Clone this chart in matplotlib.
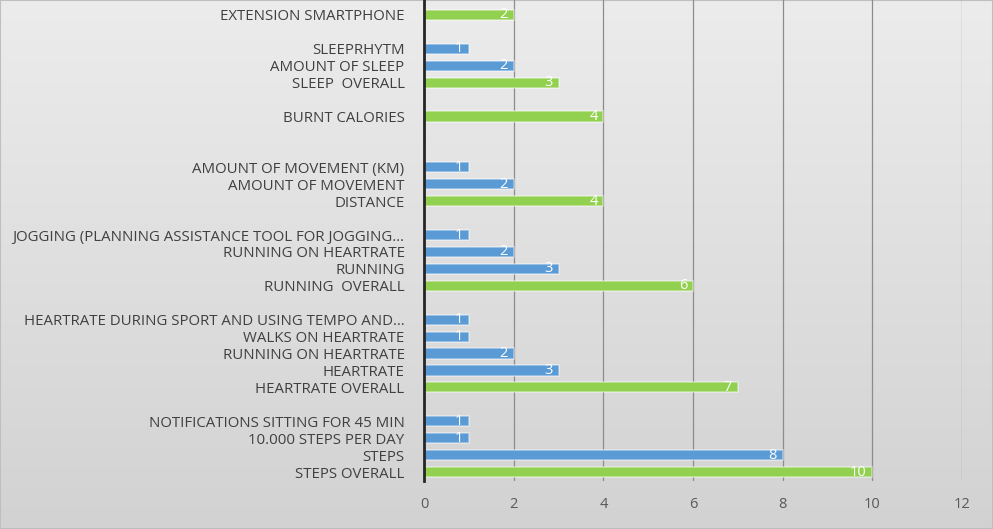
import numpy as np
import matplotlib
matplotlib.use("Agg")
import matplotlib.pyplot as plt
from matplotlib.colors import LinearSegmentedColormap

# Rows from bottom to top; "" marks empty spacer rows
categories = [
    "STEPS OVERALL", "STEPS", "10.000 STEPS PER DAY", "NOTIFICATIONS SITTING FOR 45 MIN", "",
    "HEARTRATE OVERALL", "HEARTRATE", "RUNNING ON HEARTRATE", "WALKS ON HEARTRATE",
    "HEARTRATE DURING SPORT AND USING TEMPO AND…", "",
    "RUNNING  OVERALL", "RUNNING", "RUNNING ON HEARTRATE",
    "JOGGING (PLANNING ASSISTANCE TOOL FOR JOGGING…", "",
    "DISTANCE", "AMOUNT OF MOVEMENT", "AMOUNT OF MOVEMENT (KM)", "", "",
    "BURNT CALORIES", "",
    "SLEEP  OVERALL", "AMOUNT OF SLEEP", "SLEEPRHYTM", "",
    "EXTENSION SMARTPHONE",
]
values = [10, 8, 1, 1, None,
          7, 3, 2, 1, 1, None,
          6, 3, 2, 1, None,
          4, 2, 1, None, None,
          4, None,
          3, 2, 1, None,
          2]
# "overall" = green, sub-item = blue
kinds = ["o", "s", "s", "s", None,
         "o", "s", "s", "s", "s", None,
         "o", "s", "s", "s", None,
         "o", "s", "s", None, None,
         "o", None,
         "o", "s", "s", None,
         "o"]
x_ticks = [0, 2, 4, 6, 8, 10, 12]

GREEN = "#92d050"
BLUE = "#5b9bd5"

W, H = 993, 529
fig = plt.figure(figsize=(W / 100, H / 100), dpi=100)
plt.rcParams["font.family"] = ["Open Sans", "DejaVu Sans"]

# background gradient
bg = fig.add_axes([0, 0, 1, 1])
grad = np.linspace(0, 1, 256).reshape(-1, 1)
cm = LinearSegmentedColormap.from_list("g", ["#ececec", "#d2d2d2"])
bg.imshow(grad, aspect="auto", cmap=cm, extent=[0, 1, 0, 1], origin="upper")
bg.set_axis_off()
bg.add_patch(plt.Rectangle((0, 0), 1, 1, transform=bg.transAxes, fill=False,
                           edgecolor="#bfbfbf", linewidth=1.5))

row = 16.93
bottom_px = 480.5
n = len(categories)
ylo, yhi = -0.5, n - 0.5 + 0.4
h_px = (yhi - ylo) * row
ax = fig.add_axes([424 / W, 1 - bottom_px / H, (962 - 424) / W, h_px / H])
ax.patch.set_alpha(0)

ypos = np.arange(n)
for y, v, k in zip(ypos, values, kinds):
    if v is None:
        continue
    col = GREEN if k == "o" else BLUE
    ax.barh(y, v, height=0.6, color=col, edgecolor=(1, 1, 1, 0.45), linewidth=1.2, zorder=3)
    ax.text(v - 0.13, y, str(v), ha="right", va="center", color="white",
            fontsize=10.5, zorder=4)

ax.set_xlim(0, 12)
ax.set_ylim(ylo, yhi)
ax.set_xticks(x_ticks)
ax.set_xticklabels([str(t) for t in x_ticks], color="#595959", fontsize=10.5)
ax.set_yticks(ypos)
ax.set_yticklabels(categories, color="#404040", fontsize=10.8)
ax.tick_params(axis="y", length=0, pad=14)
ax.tick_params(axis="x", length=0, pad=12)
ax.xaxis.grid(True, color="#8c8c8c", linewidth=0.9, zorder=0)
ax.set_axisbelow(True)
for s in ["right", "top", "bottom"]:
    ax.spines[s].set_visible(False)
ax.spines["left"].set_color("#262626")
ax.spines["left"].set_linewidth(2)
ax.spines["left"].set_zorder(5)

fig.savefig("out.png", dpi=100)
